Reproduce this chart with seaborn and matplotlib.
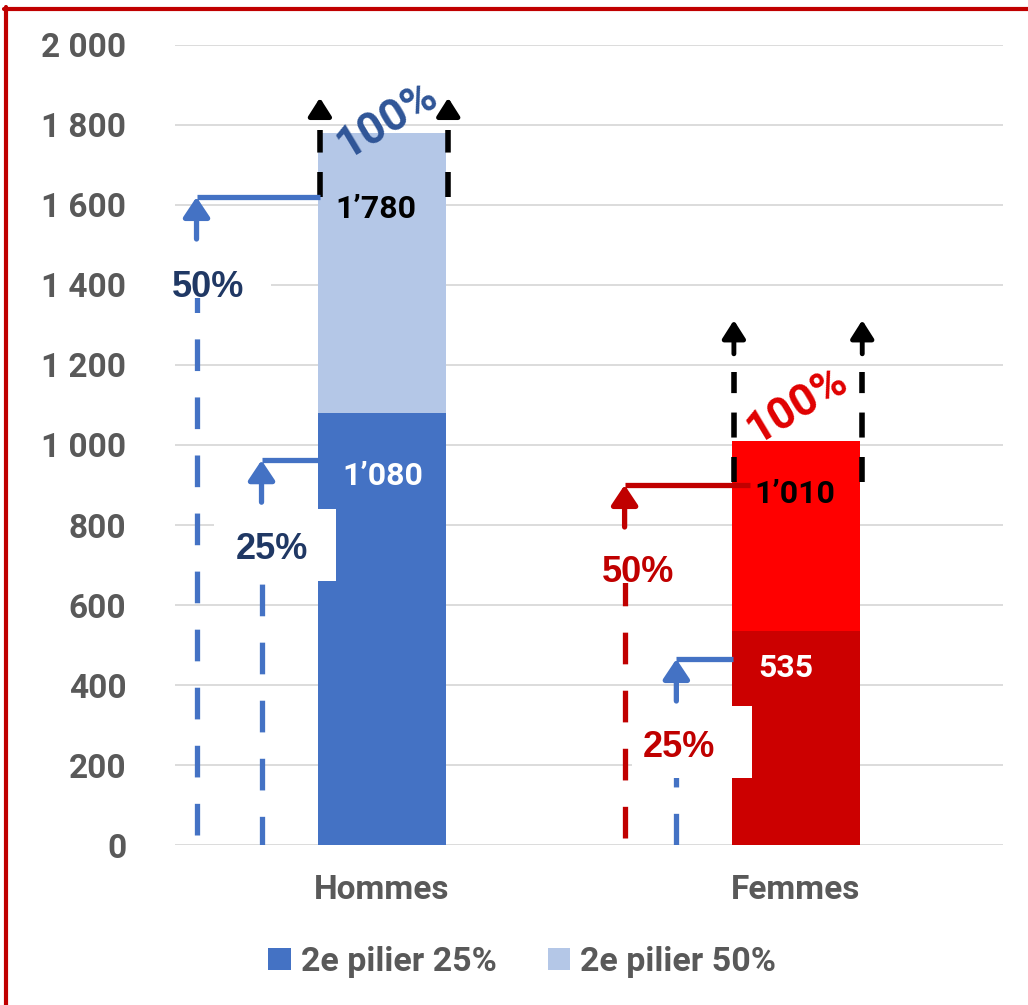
import matplotlib
matplotlib.use("Agg")
import matplotlib.pyplot as plt
import seaborn as sns
import pandas as pd
from matplotlib.patches import Patch, Rectangle
from matplotlib.lines import Line2D

# data
categories = ["Hommes", "Femmes"]
pilier_25 = [1080, 535]
pilier_50 = [1780, 1010]
labels_25 = ["1’080", "535"]
labels_50 = ["1’780", "1’010"]
legend_labels = ["2e pilier 25%", "2e pilier 50%"]
yticks = [0, 200, 400, 600, 800, 1000, 1200, 1400, 1600, 1800, 2000]
ytick_labels = ["0", "200", "400", "600", "800", "1 000", "1 200", "1 400", "1 600", "1 800", "2 000"]

colors_25 = ["#4472C4", "#CC0000"]
colors_50 = ["#B4C7E7", "#FF0000"]
BLUE = "#4472C4"
DARKRED = "#C00000"
GREY = "#595959"

sns.set_theme(style="white")
plt.rcParams["font.family"] = ["Roboto", "DejaVu Sans"]
plt.rcParams["font.weight"] = "bold"

df = pd.DataFrame({"cat": categories, "p25": pilier_25, "p50": pilier_50})

fig = plt.figure(figsize=(10.28, 10.05), dpi=100)
ax = fig.add_axes([175 / 1028, 1 - 845 / 1005, 828 / 1028, 800 / 1005])

sns.barplot(data=df, x="cat", y="p50", hue="cat", palette=colors_50, width=0.31,
            legend=False, ax=ax, zorder=2, saturation=1, linewidth=0, edgecolor="none")
sns.barplot(data=df, x="cat", y="p25", hue="cat", palette=colors_25, width=0.31,
            legend=False, ax=ax, zorder=2, saturation=1, linewidth=0, edgecolor="none")

ax.set_xlim(-0.5, 1.5)
ax.set_ylim(0, 2000)
ax.set_yticks(yticks)
ax.set_yticklabels(ytick_labels)
ax.set_xlabel("")
ax.set_ylabel("")
ax.tick_params(axis="y", length=0, pad=35, labelsize=24, labelcolor=GREY)
ax.tick_params(axis="x", length=0, pad=21, labelsize=24, labelcolor=GREY)
for t in ax.get_xticklabels() + ax.get_yticklabels():
    t.set_fontweight("bold")
ax.grid(axis="y", color="#D9D9D9", lw=1.3, zorder=0)
ax.set_axisbelow(True)
for s in ax.spines.values():
    s.set_visible(False)

DASH = (0, (6, 5))


def elbow(x, x_end, y, y0, color, lw=3.8):
    # dashed stem from the base, short solid arrow, arm to the bar
    ax.plot([x, x], [y0, y - 125], color=color, lw=lw, ls=DASH,
            solid_capstyle="butt", dash_capstyle="butt", zorder=3)
    ax.annotate("", xy=(x, y), xytext=(x, y - 105),
                arrowprops=dict(arrowstyle="-|>,head_width=0.4,head_length=0.6",
                                color=color, lw=lw, shrinkA=0, shrinkB=0,
                                mutation_scale=20), zorder=3)
    ax.plot([x, x_end], [y, y], color=color, lw=lw, solid_capstyle="butt", zorder=3)


def bracket(i, y_lo, y_hi, y_from, y_tip):
    for x in (i - 0.15, i + 0.16):
        ax.plot([x, x], [y_lo, y_hi], color="black", lw=4, ls=(0, (4.5, 3.5)),
                dash_capstyle="butt", zorder=3)
        ax.annotate("", xy=(x, y_tip), xytext=(x, y_from),
                    arrowprops=dict(arrowstyle="-|>,head_width=0.35,head_length=0.55",
                                    color="black", lw=3.5, shrinkA=0, shrinkB=0,
                                    mutation_scale=20), zorder=3)


def white_box(x0, x1, y0, y1):
    ax.add_patch(Rectangle((x0, y0), x1 - x0, y1 - y0, facecolor="white",
                           edgecolor="none", zorder=4, clip_on=False))


# Hommes
bracket(0, 1620, 1788, 1822, 1868)
elbow(-0.448, -0.15, 1620, 25, BLUE)
elbow(-0.291, -0.155, 962, -8, BLUE)
white_box(-0.56, -0.267, 1367, 1495)
white_box(-0.405, -0.112, 660, 840)

# Femmes
bracket(1, 907, 1182, 1228, 1312)
elbow(0.586, 0.89, 900, 18, DARKRED)
elbow(0.711, 0.847, 465, 0, BLUE)
white_box(0.477, 0.767, 655, 787)
white_box(0.603, 0.893, 167, 347)

pct_font = ["Liberation Sans", "DejaVu Sans"]
ax.text(-0.42, 1370, "50%", color="#203864", fontsize=26, fontweight="bold",
        family=pct_font, ha="center", va="baseline", zorder=5)
ax.text(-0.265, 715, "25%", color="#203864", fontsize=26, fontweight="bold",
        family=pct_font, ha="center", va="baseline", zorder=5)
ax.text(0.618, 657, "50%", color=DARKRED, fontsize=26, fontweight="bold",
        family=pct_font, ha="center", va="baseline", zorder=5)
ax.text(0.718, 220, "25%", color=DARKRED, fontsize=26, fontweight="bold",
        family=pct_font, ha="center", va="baseline", zorder=5)

# rotated 100% labels
ax.text(0.013, 1812, "100%", color="#2F5597", fontsize=32, fontweight="bold",
        rotation=31, ha="center", va="center", zorder=5)
ax.text(1.004, 1100, "100%", color="#E00000", fontsize=32, fontweight="bold",
        rotation=31, ha="center", va="center", zorder=5)

# value labels
ax.text(-0.014, 1567, labels_50[0], color="black", fontsize=23, fontweight="bold",
        ha="center", va="baseline", zorder=5)
ax.text(0.002, 900, labels_25[0], color="white", fontsize=23, fontweight="bold",
        ha="center", va="baseline", zorder=5)
ax.text(0.996, 855, labels_50[1], color="black", fontsize=23, fontweight="bold",
        ha="center", va="baseline", zorder=5)
ax.text(0.976, 420, labels_25[1], color="white", fontsize=23, fontweight="bold",
        ha="center", va="baseline", zorder=5)

handles = [Patch(facecolor=colors_25[0], edgecolor="none"),
           Patch(facecolor=colors_50[0], edgecolor="none")]
leg = fig.legend(handles, legend_labels, loc="center", bbox_to_anchor=(0.508, 1 - 962 / 1005),
                 ncol=2, frameon=False, fontsize=24.5, handlelength=0.65, handleheight=0.65,
                 handletextpad=0.3, columnspacing=1.5)
for t in leg.get_texts():
    t.set_color(GREY)
    t.set_fontweight("bold")

# red frame (left and top edges)
fig.add_artist(Line2D([6 / 1028, 6 / 1028], [0, 1 - 7 / 1005], transform=fig.transFigure,
                      color=DARKRED, lw=3))
fig.add_artist(Line2D([4 / 1028, 1], [1 - 9 / 1005, 1 - 9 / 1005], transform=fig.transFigure,
                      color=DARKRED, lw=3))

fig.savefig("out.png", dpi=100)
